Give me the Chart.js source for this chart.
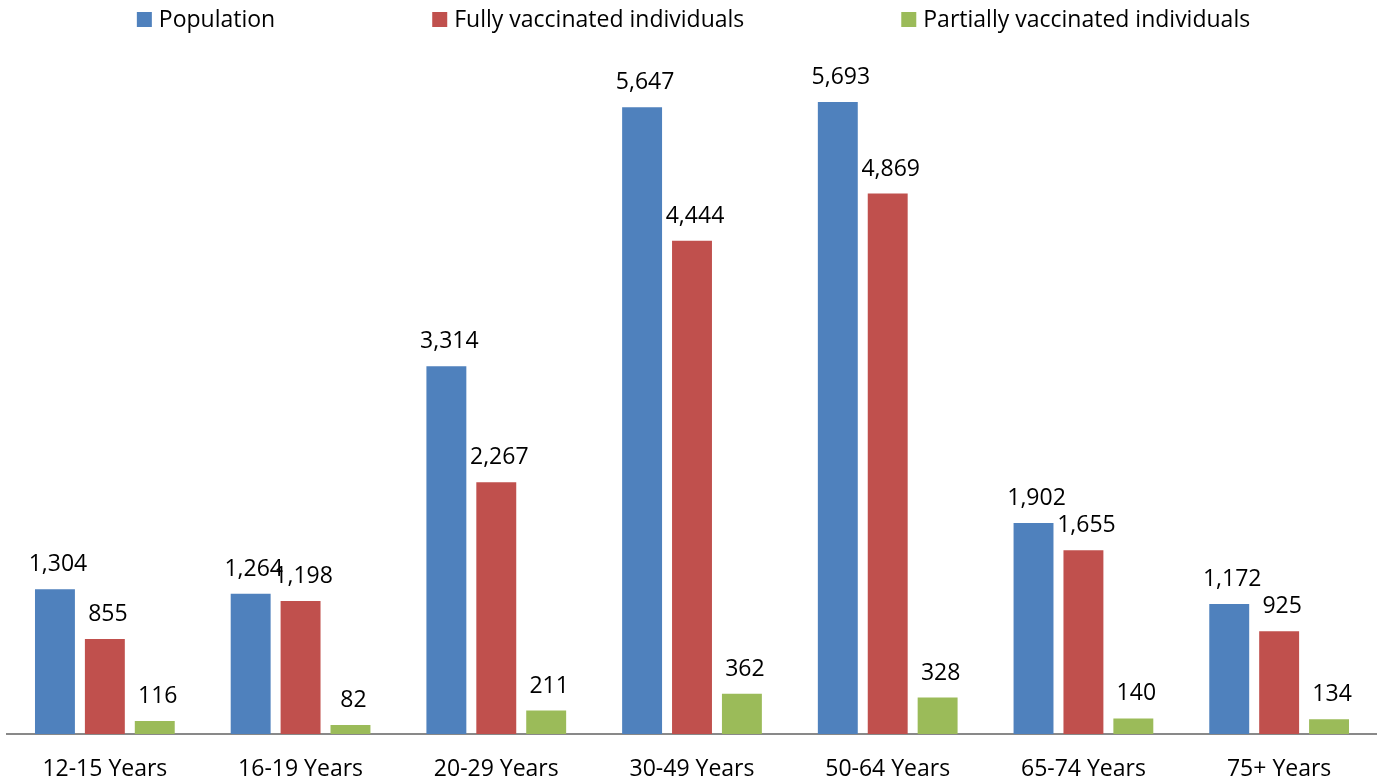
<!DOCTYPE html>
<html>
<head>
<meta charset="utf-8">
<script src="https://cdn.jsdelivr.net/npm/chart.js@4"></script>
<style>
  body { margin: 0; background: #fff; }
  #myCanvas { display: block; }
</style>
</head>
<body>
<canvas id="myCanvas" width="1377" height="784"></canvas>
<script>
let categorie = ["12-15 Years", "16-19 Years", "20-29 Years", "30-49 Years", "50-64 Years", "65-74 Years", "75+ Years"]
let popolazione = [1304, 1264, 3314, 5647, 5693, 1902, 1172]
let completi = [855, 1198, 2267, 4444, 4869, 1655, 925]
let parziali = [116, 82, 211, 362, 328, 140, 134]
let nomiSerie = ["Population", "Fully vaccinated individuals", "Partially vaccinated individuals"]
let colori = ["#4F81BD", "#C0504D", "#9BBB59"]

let font = "'Open Sans', sans-serif"

// etichette sopra le barre
const etichette = {
  id: "etichette",
  afterDatasetsDraw(chart) {
    let ctx = chart.ctx
    ctx.save()
    ctx.font = "23px " + font
    ctx.fillStyle = "#000"
    ctx.textAlign = "center"
    ctx.textBaseline = "alphabetic"
    chart.data.datasets.forEach((ds, i) => {
      chart.getDatasetMeta(i).data.forEach((bar, j) => {
        ctx.fillText(ds.data[j].toLocaleString("en-US"), bar.x + 3, bar.y - 18)
      })
    })
    ctx.restore()
  }
}

// legenda in alto, disegnata a mano
const legenda = {
  id: "legenda",
  afterDraw(chart) {
    let ctx = chart.ctx
    ctx.save()
    ctx.font = "23px " + font
    ctx.textBaseline = "middle"
    let gap = 157
    let larghezze = chart.data.datasets.map(ds => 22 + ctx.measureText(ds.label).width)
    let totale = larghezze.reduce((a, b) => a + b, 0) + gap * (larghezze.length - 1)
    let x = 693.5 - totale / 2
    chart.data.datasets.forEach((ds, i) => {
      ctx.fillStyle = ds.backgroundColor
      ctx.fillRect(x, 12, 15, 15)
      ctx.fillStyle = "#000"
      ctx.fillText(ds.label, x + 22, 20)
      x += larghezze[i] + gap
    })
    ctx.restore()
  }
}

creaGrafico()

function creaGrafico() {
  let myCanvas = document.querySelector("#myCanvas").getContext("2d")
  let serie = [popolazione, completi, parziali]

  new Chart(myCanvas, {
    type: "bar",
    data: {
      labels: categorie,
      datasets: serie.map((valori, i) => ({
        label: nomiSerie[i],
        data: valori,
        backgroundColor: colori[i],
        categoryPercentage: 0.765,
        barPercentage: 0.8,
      })),
    },
    options: {
      responsive: false,
      animation: false,
      layout: { padding: { top: 68, left: 7, right: 0, bottom: 4 } },
      plugins: {
        legend: { display: false },
        tooltip: { enabled: false },
      },
      scales: {
        x: {
          grid: { display: false, drawTicks: false },
          border: { display: true, color: "#898989", width: 2 },
          ticks: { color: "#000", font: { family: font, size: 23 }, padding: 22 },
          afterFit: (scala) => { scala.height = 46 },
        },
        y: {
          display: false,
          min: 0,
          max: 6000,
        },
      },
    },
    plugins: [etichette, legenda],
  })
}
</script>
</body>
</html>
